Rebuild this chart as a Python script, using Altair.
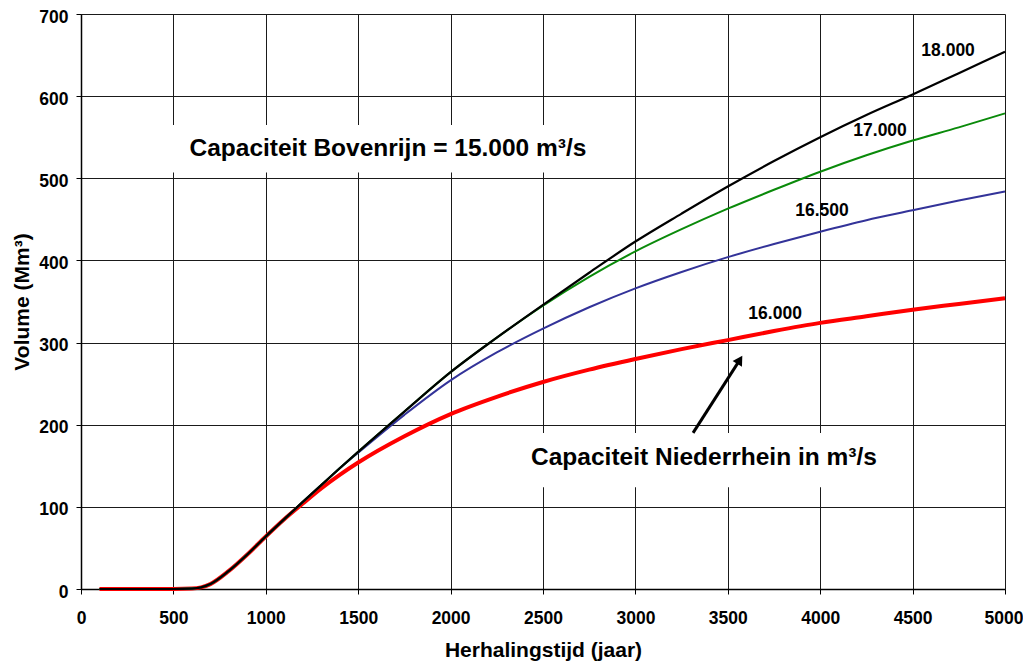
import altair as alt
import pandas as pd

# ---------------- data ----------------
x_common = [100, 300, 500, 600, 650, 700, 800, 900, 1000]
y_common = [0, 0, 0, 0.5, 2, 6, 22, 42, 64]

x_tail = [1100, 1200, 1300, 1400, 1500, 1750, 2000, 2250, 2500, 2750, 3000,
          3250, 3500, 3750, 4000, 4250, 4500, 4750, 5000]
y_18000 = [85, 106, 126.5, 147, 167, 216, 264, 306, 346, 385, 423,
           457, 490, 521, 550, 577, 602, 628, 654]
y_17000 = [85, 106, 126.5, 147, 167, 216, 264, 306, 345, 380, 411,
           438, 463, 486, 508, 528, 546, 562, 579]
y_16500 = [85, 106, 126.5, 147, 166, 212, 254, 288, 317, 343, 366,
           386, 404, 420, 435, 449, 461, 473, 484]
y_16000 = [85, 104, 122.5, 139, 154, 186, 213, 234, 252, 267, 280,
           292, 303, 314, 324, 332, 340, 347, 354]

series_names = ["16.000", "16.500", "17.000", "18.000"]
series_vals = [y_16000, y_16500, y_17000, y_18000]
series_colors = ["#ff0000", "#333399", "#0a8a0a", "#000000"]
series_widths = [4, 2, 2, 2.2]

# curve labels
label_text = ["18.000", "17.000", "16.500", "16.000"]
label_x = [4692, 4324, 4010, 3756]
label_y = [655, 557, 460, 335]

# annotation boxes / texts
box_x = [450, 2380]
box_x2 = [2800, 4380]
box_y = [507, 124]
box_y2 = [565, 190]
note_text = ["Capaciteit  Bovenrijn = 15.000 m³/s", "Capaciteit Niederrhein in m³/s"]
note_x = [1661, 3371]
note_y = [536, 160]

# arrow
arrow_x = [3312]
arrow_y = [190]
arrow_x2 = [3565]
arrow_y2 = [279]

FONT = "Liberation Sans"

# ---------------- scales ----------------
xs = alt.Scale(domain=[0, 5000], nice=False, zero=False)
ys = alt.Scale(domain=[0, 700], nice=False)

layers = []

# white boxes behind annotation texts (hide gridlines)
boxes = pd.DataFrame({"x": box_x, "x2": box_x2, "y": box_y, "y2": box_y2})
layers.append(
    alt.Chart(boxes).mark_rect(color="white").encode(
        x=alt.X("x:Q", scale=xs, title="Herhalingstijd (jaar)",
                axis=alt.Axis(
                    values=list(range(0, 5001, 500)), format="d",
                    labelAlign={"condition": {"test": "datum.value == 5000", "value": "right"},
                                "value": "center"},
                    labelOffset={"condition": {"test": "datum.value == 5000", "value": 18},
                                 "value": 0},
                )),
        x2="x2:Q",
        y=alt.Y("y:Q", scale=ys, title="Volume (Mm³)",
                axis=alt.Axis(values=list(range(0, 701, 100)), format="d")),
        y2="y2:Q",
    )
)

for name, vals, col, w in zip(series_names, series_vals, series_colors, series_widths):
    df = pd.DataFrame({"x": x_common + x_tail, "y": y_common + vals})
    layers.append(
        alt.Chart(df).mark_line(color=col, strokeWidth=w, interpolate="monotone").encode(
            x=alt.X("x:Q", scale=xs), y=alt.Y("y:Q", scale=ys)
        )
    )

labels = pd.DataFrame({"t": label_text, "x": label_x, "y": label_y})
layers.append(
    alt.Chart(labels).mark_text(font=FONT, fontSize=17.5, fontWeight="bold", color="black").encode(
        x=alt.X("x:Q", scale=xs), y=alt.Y("y:Q", scale=ys), text="t:N"
    )
)

notes = pd.DataFrame({"t": note_text, "x": note_x, "y": note_y})
layers.append(
    alt.Chart(notes).mark_text(font=FONT, fontSize=24.5, fontWeight="bold", color="black").encode(
        x=alt.X("x:Q", scale=xs), y=alt.Y("y:Q", scale=ys), text="t:N"
    )
)

arrow = pd.DataFrame({"x": arrow_x, "y": arrow_y, "x2": arrow_x2, "y2": arrow_y2})
layers.append(
    alt.Chart(arrow).mark_rule(color="black", strokeWidth=3).encode(
        x=alt.X("x:Q", scale=xs), y=alt.Y("y:Q", scale=ys), x2="x2:Q", y2="y2:Q"
    )
)
layers.append(
    alt.Chart(arrow).mark_point(shape="triangle-up", filled=True, color="black",
                                opacity=1, size=120, angle=32).encode(
        x=alt.X("x2:Q", scale=xs), y=alt.Y("y2:Q", scale=ys)
    )
)

chart = alt.layer(*layers).properties(
    width=924, height=575,
    autosize=alt.AutoSizeParams(type="none"),
    padding={"left": 73, "top": 6, "right": 18, "bottom": 76},
    background="white",
).configure_view(stroke=None).configure_axis(
    grid=True, gridColor="#1a1a1a", gridWidth=1, gridOpacity=1,
    domainColor="black", domainWidth=1.5,
    tickColor="black", tickSize=5, tickWidth=1,
    labelFont=FONT, labelFontSize=17.5, labelFontWeight="bold", labelColor="black",
    titleFont=FONT, titleFontSize=21, titleFontWeight="bold", titleColor="black",
).configure_axisX(
    labelPadding=15, titlePadding=13, labelFlush=False,
).configure_axisY(
    labelPadding=8, titlePadding=6, labelOffset=3,
)

chart.save("out.html", embed_options={"renderer": "svg", "actions": False})
